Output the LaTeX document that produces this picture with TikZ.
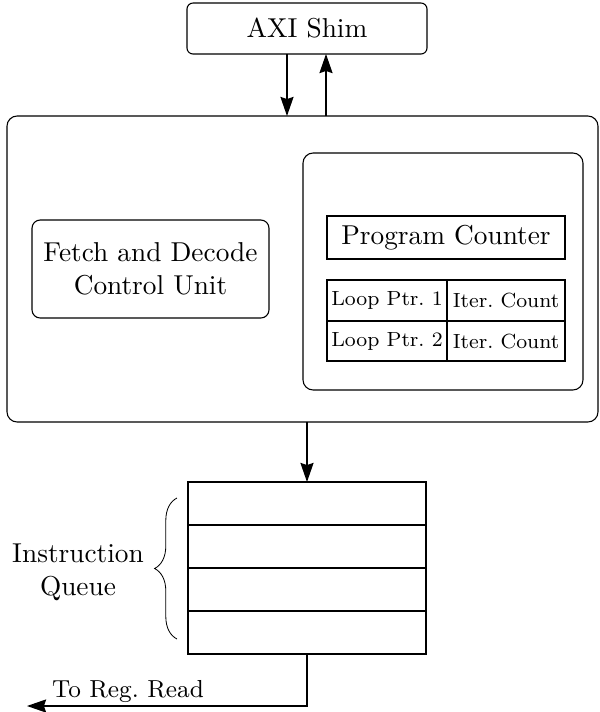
\documentclass[tikz,border=0pt]{standalone}
\usetikzlibrary{decorations.pathreplacing,arrows.meta}
\newcommand\pxl{0.366pt}
\begin{document}
\begin{tikzpicture}[x=0.366pt,y=-0.366pt,
  blk/.style={draw,inner sep=0pt,outer sep=0pt,align=center,font=\normalsize},
  rbox/.style={blk,rounded corners=#1},
  cell/.style={blk,font=\fontsize{7.5}{9}\selectfont},
  arr/.style={-{Stealth[length=7pt,width=4.8pt,inset=0.8pt]},line width=0.5pt}]
\useasboundingbox (0,0) rectangle (600,712);
% nodes
\node[rbox=2.2pt,minimum width=240*\pxl,minimum height=51*\pxl] (axi) at (307,28.5) {AXI Shim};
\node[rbox=3.7pt,minimum width=591*\pxl,minimum height=306*\pxl] (main) at (302.5,269) {};
\node[rbox=3pt,minimum width=237*\pxl,minimum height=98*\pxl] (fetch) at (150.5,269) {Fetch and Decode\\Control Unit};
\node[rbox=3.7pt,minimum width=280*\pxl,minimum height=237*\pxl] (pcu) at (443,271.5) {};
\node[blk,minimum width=238*\pxl,minimum height=43*\pxl] (pc) at (446,237.5) {Program Counter};
\node[cell,minimum width=120*\pxl,minimum height=41*\pxl] (lp1) at (387,300.5) {Loop Ptr.\ 1};
\node[cell,minimum width=120*\pxl,minimum height=40*\pxl] (lp2) at (387,341) {Loop Ptr.\ 2};
\node[cell,line width=0.55pt,minimum width=118*\pxl,minimum height=41*\pxl] (ic1) at (506,300.5) {Iter.\ Count};
\node[cell,line width=0.55pt,minimum width=118*\pxl,minimum height=40*\pxl] (ic2) at (506,341) {Iter.\ Count};
% queue
\node[blk,minimum width=238*\pxl,minimum height=43*\pxl] (q1) at (307,503.5) {};
\node[blk,minimum width=238*\pxl,minimum height=43*\pxl] (q2) at (307,546.5) {};
\node[blk,minimum width=238*\pxl,minimum height=43*\pxl] (q3) at (307,589.5) {};
\node[blk,minimum width=238*\pxl,minimum height=43*\pxl] (q4) at (307,632.5) {};
\draw[line width=0.6pt] (q1.south west) -- (q1.south east);
\draw[line width=0.6pt] (q2.south west) -- (q2.south east);
\draw[line width=0.6pt] (q3.south west) -- (q3.south east);
\node[align=center,inner sep=0pt] (iq) at (78,572) {Instruction\\Queue};
\coordinate (bb) at (177,639);
\coordinate (bt) at (177,498);
\draw[decorate,decoration={brace,amplitude=8.2pt},line width=0.3pt] (bb) -- (bt);
% arrows
\coordinate (xa) at (287,0);
\coordinate (xb) at (326,0);
\draw[arr] (axi.south -| xa) -- (main.north -| xa);
\draw[arr] (main.north -| xb) -- (axi.south -| xb);
\draw[arr] (main.south -| q1.north) -- (q1.north);
\coordinate (out) at (27,706);
\draw[arr] (q4.south) |- (out);
\node[font=\small,inner sep=0pt] (lbl) at (128,691) {To Reg.\ Read};
\end{tikzpicture}
\end{document}
